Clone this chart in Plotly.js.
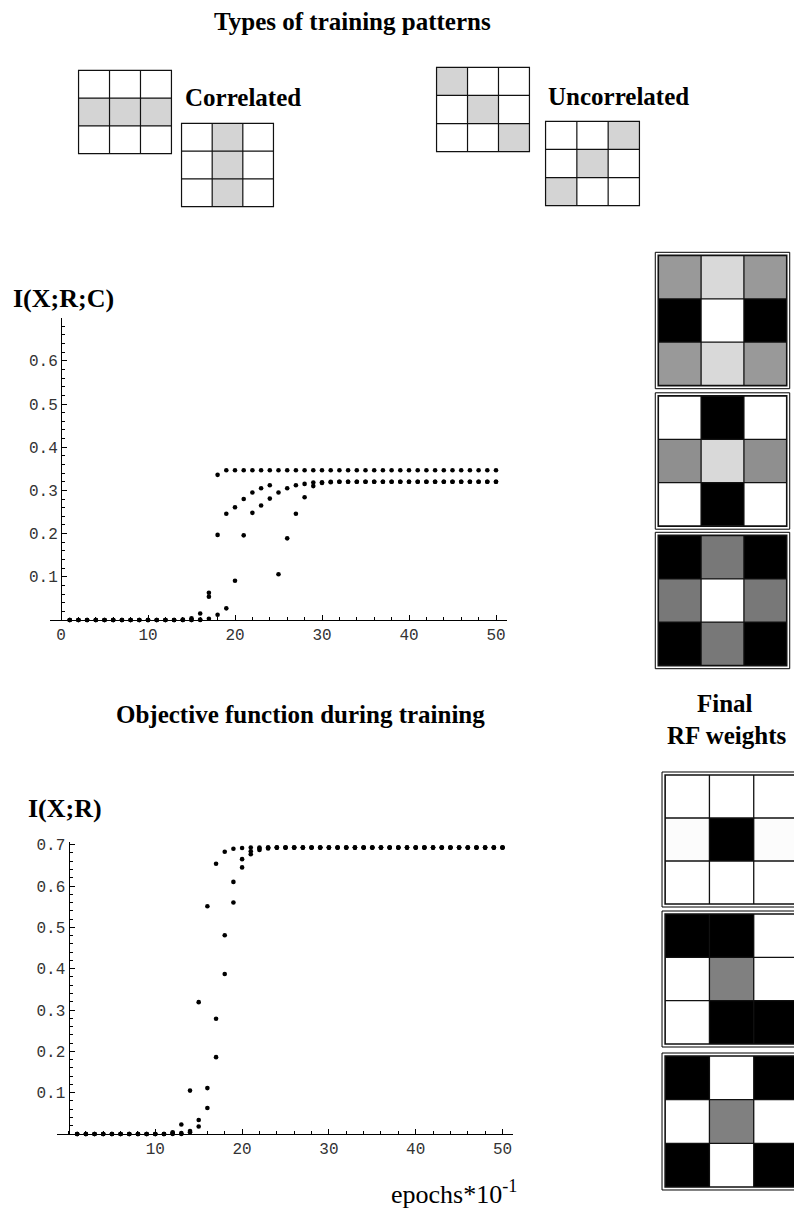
<!DOCTYPE html>
<html>
<head>
<meta charset="utf-8">
<script src="https://cdn.plot.ly/plotly-3.0.1.min.js"></script>
<style>html,body{margin:0;padding:0;background:#fff;}#plot{width:794px;height:1210px;}</style>
</head>
<body>
<div id="plot"></div>
<script>
// ---------------- DATA ----------------
const epochs = [1,2,3,4,5,6,7,8,9,10,11,12,13,14,15,16,17,18,19,20,21,22,23,24,25,26,27,28,29,30,31,32,33,34,35,36,37,38,39,40,41,42,43,44,45,46,47,48,49,50];

// I(X;R;C) — three training runs
const ixrcRun1 = [0,0,0,0,0,0,0,0,0,0,0,0,0,0.001,0.004,0.015,0.063,0.336,
  0.3466,0.3466,0.3466,0.3466,0.3466,0.3466,0.3466,0.3466,0.3466,0.3466,0.3466,0.3466,0.3466,0.3466,0.3466,0.3466,
  0.3466,0.3466,0.3466,0.3466,0.3466,0.3466,0.3466,0.3466,0.3466,0.3466,0.3466,0.3466,0.3466,0.3466,0.3466,0.3466];
const ixrcRun2 = [0,0,0,0,0,0,0,0,0,0,0,0,0,0,0,0.001,0.054,0.197,0.246,0.261,0.280,0.295,0.305,0.312,
  0.106,0.189,0.246,0.284,0.310,0.317,0.319,
  0.320,0.320,0.320,0.320,0.320,0.320,0.320,0.320,0.320,0.320,0.320,0.320,0.320,0.320,0.320,0.320,0.320,0.320,0.320];
const ixrcRun3 = [0,0,0,0,0,0,0,0,0,0,0,0,0,0,0,0,0.003,0.012,0.027,0.091,0.196,0.248,0.265,0.281,
  0.295,0.305,0.312,0.315,0.318,0.319,
  0.320,0.320,0.320,0.320,0.320,0.320,0.320,0.320,0.320,0.320,0.320,0.320,0.320,0.320,0.320,0.320,0.320,0.320,0.320,0.320];

// I(X;R) — three training runs
const ixrRun1 = [0,0,0,0,0,0,0,0,0,0,0,0.004,0.023,0.105,0.319,0.551,0.654,0.683,0.690,0.692,
  0.693,0.693,0.693,0.693,0.693,0.693,0.693,0.693,0.693,0.693,0.693,0.693,0.693,0.693,0.693,
  0.693,0.693,0.693,0.693,0.693,0.693,0.693,0.693,0.693,0.693,0.693,0.693,0.693,0.693,0.693];
const ixrRun2 = [0,0,0,0,0,0,0,0,0,0,0,0.002,0.002,0.007,0.034,0.111,0.279,0.481,0.610,0.665,0.684,0.690,
  0.693,0.693,0.693,0.693,0.693,0.693,0.693,0.693,0.693,0.693,0.693,0.693,0.693,0.693,
  0.693,0.693,0.693,0.693,0.693,0.693,0.693,0.693,0.693,0.693,0.693,0.693,0.693,0.693];
const ixrRun3 = [0,0,0,0,0,0,0,0,0,0,0,0,0,0.004,0.018,0.063,0.186,0.387,0.560,0.645,0.677,0.687,0.691,
  0.693,0.693,0.693,0.693,0.693,0.693,0.693,0.693,0.693,0.693,0.693,0.693,0.693,
  0.693,0.693,0.693,0.693,0.693,0.693,0.693,0.693,0.693,0.693,0.693,0.693,0.693,0.693];

// axis ticks
const ixrcTickVals = [0.1,0.2,0.3,0.4,0.5,0.6];
const ixrcTickText = ['0.1','0.2','0.3','0.4','0.5','0.6'];
const ixrTickVals = [0.1,0.2,0.3,0.4,0.5,0.6,0.7];
const ixrTickText = ['0.1','0.2','0.3','0.4','0.5','0.6','0.7'];
const xTickValsTop = [0,10,20,30,40,50];
const xTickValsBottom = [10,20,30,40,50];

// training patterns (1 = active pixel)
const patCorrRow = [[0,0,0],[1,1,1],[0,0,0]];
const patCorrCol = [[0,1,0],[0,1,0],[0,1,0]];
const patUncDiag = [[1,0,0],[0,1,0],[0,0,1]];
const patUncAnti = [[0,0,1],[0,1,0],[1,0,0]];

// final RF weights (grey level, 0 = black, 1 = white)
const rfCorr1 = [[0.60,0.85,0.60],[0.00,1.00,0.00],[0.60,0.85,0.60]];
const rfCorr2 = [[1.00,0.00,1.00],[0.56,0.85,0.56],[1.00,0.00,1.00]];
const rfCorr3 = [[0.00,0.47,0.00],[0.47,1.00,0.47],[0.00,0.47,0.00]];
const rfUnc1 = [[1.00,1.00,1.00],[0.99,0.00,0.99],[1.00,1.00,1.00]];
const rfUnc2 = [[0.00,0.00,1.00],[1.00,0.50,1.00],[1.00,0.00,0.00]];
const rfUnc3 = [[0.00,1.00,0.00],[1.00,0.50,1.00],[0.00,1.00,0.00]];

// ---------------- LAYOUT HELPERS ----------------
const W = 794, H = 1210;
const fx = p => p / W;
const fy = p => 1 - p / H;
const serif = 'Liberation Serif, Times New Roman, serif';
const mono = 'Liberation Mono, Courier New, monospace';

const traces = [];
const layout = {
  width: W, height: H,
  margin: {l:0, r:0, t:0, b:0},
  paper_bgcolor: '#fff', plot_bgcolor: 'rgba(0,0,0,0)',
  showlegend: false,
  shapes: [], annotations: []
};

function chart(n, ys, opts) {
  const xa = 'xaxis' + (n === 1 ? '' : n), ya = 'yaxis' + (n === 1 ? '' : n);
  const xr = 'x' + (n === 1 ? '' : n), yr = 'y' + (n === 1 ? '' : n);
  ys.forEach(y => traces.push({
    type: 'scatter', mode: 'markers', x: epochs, y: y, xaxis: xr, yaxis: yr,
    marker: {color: '#000', size: 4.6}, cliponaxis: false, hoverinfo: 'skip'
  }));
  const scale = opts.scale;
  layout[xa] = {
    domain: [fx(opts.left), fx(opts.right)],
    range: [(opts.left - opts.origin) / scale, (opts.right - opts.origin) / scale],
    anchor: yr, showline: true, linecolor: '#000', linewidth: 1,
    zeroline: false, showgrid: false,
    tickmode: 'array', tickvals: opts.xticks, ticktext: opts.xticks.map(String),
    ticks: 'inside', ticklen: 5, tickcolor: '#000', tickwidth: 1,
    minor: {ticks: 'inside', ticklen: 3, dtick: 2, tick0: 0, tickcolor: '#000', tickwidth: 1, showgrid: false},
    tickfont: {family: mono, size: 16, color: '#333'}, fixedrange: true
  };
  layout[ya] = {
    domain: [fy(opts.bottom), fy(opts.top)],
    range: [0, (opts.bottom - opts.top) / opts.yscale],
    anchor: 'free', position: fx(opts.origin),
    showline: true, linecolor: '#000', linewidth: 1,
    zeroline: false, showgrid: false,
    tickmode: 'array', tickvals: opts.yticks, ticktext: opts.yticktext,
    ticks: 'inside', ticklen: 5, tickcolor: '#000', tickwidth: 1,
    minor: {ticks: 'inside', ticklen: 3, dtick: 0.02, tick0: 0, tickcolor: '#000', tickwidth: 1, showgrid: false},
    tickfont: {family: mono, size: 16, color: '#333'}, fixedrange: true
  };
}

chart(1, [ixrcRun1, ixrcRun2, ixrcRun3], {
  left: 50, right: 507, origin: 61, scale: 8.7,
  top: 318, bottom: 620, yscale: 432,
  xticks: xTickValsTop, yticks: ixrcTickVals, yticktext: ixrcTickText
});
chart(2, [ixrRun1, ixrRun2, ixrRun3], {
  left: 57, right: 513, origin: 68.5, scale: 8.68,
  top: 842, bottom: 1134, yscale: 413.3,
  xticks: xTickValsBottom, yticks: ixrTickVals, yticktext: ixrTickText
});

// grids drawn as heatmaps on their own axes
let axN = 3;
function grid(z, box, colorscale, framed, pad, cutHi) {
  const n = axN++;
  const xr = 'x' + n, yr = 'y' + n;
  traces.push({
    type: 'heatmap', z: z, x: [0,1,2], y: [0,1,2], xaxis: xr, yaxis: yr,
    zmin: 0, zmax: 1, colorscale: colorscale, showscale: false, hoverinfo: 'skip'
  });
  const lo = -0.5 - pad, hi = 2.5 + pad;
  layout['xaxis' + n] = {domain: [fx(box[0]), Math.min(1, fx(box[2]))], range: [lo, cutHi !== undefined ? cutHi : hi],
    visible: false, fixedrange: true, anchor: yr};
  layout['yaxis' + n] = {domain: [fy(box[3]), fy(box[1])], range: [hi, lo], visible: false, fixedrange: true, anchor: xr};
  const lw = framed ? 1.3 : 1.2;
  const lc = '#111';
  [0.5, 1.5].forEach(v => {
    layout.shapes.push({type: 'line', xref: xr, yref: yr, x0: v, x1: v, y0: -0.5, y1: 2.5, line: {color: lc, width: lw}});
    layout.shapes.push({type: 'line', xref: xr, yref: yr, x0: -0.5, x1: 2.5, y0: v, y1: v, line: {color: lc, width: lw}});
  });
  layout.shapes.push({type: 'rect', xref: xr, yref: yr, x0: -0.5, x1: 2.5, y0: -0.5, y1: 2.5, line: {color: lc, width: framed ? 1.6 : 1.2}});
  if (framed) {
    layout.shapes.push({type: 'rect', xref: xr, yref: yr, x0: -0.57, x1: 2.57, y0: -0.57, y1: 2.57, line: {color: '#000', width: 1}});
  }
}

const patScale = [[0, '#ffffff'], [1, '#d4d4d4']];
const rfScale = [[0, '#000000'], [1, '#ffffff']];

grid(patCorrRow, [77, 69, 173, 155], patScale, false, 0.05);
grid(patCorrCol, [180, 122, 275, 208], patScale, false, 0.05);
grid(patUncDiag, [435, 66, 531, 153], patScale, false, 0.05);
grid(patUncAnti, [544, 120, 641, 207], patScale, false, 0.05);

grid(rfCorr1, [654, 251, 791, 390], rfScale, true, 0.1);
grid(rfCorr2, [654, 391.5, 791, 530.5], rfScale, true, 0.1);
grid(rfCorr3, [654, 531, 791, 670], rfScale, true, 0.1);
// bottom group runs off the right page edge
const cutHi = -0.6 + (794 - 660.7) / 44.3;
grid(rfUnc1, [660.7, 770.7, 794, 908.3], rfScale, true, 0.1, cutHi);
grid(rfUnc2, [660.7, 909.7, 794, 1048.3], rfScale, true, 0.1, cutHi);
grid(rfUnc3, [660.7, 1051.7, 794, 1191.3], rfScale, true, 0.1, cutHi);

// texts
function txt(text, x, y, size, anchor, bold) {
  layout.annotations.push({
    text: bold ? '<b>' + text + '</b>' : text, xref: 'paper', yref: 'paper',
    x: fx(x), y: fy(y), xanchor: anchor, yanchor: 'middle', showarrow: false,
    font: {family: serif, size: size, color: '#000'}
  });
}
txt('Types of training patterns', 352, 21, 25, 'center', true);
txt('Correlated', 183, 97, 25, 'left', true);
txt('Uncorrelated', 546, 96, 25, 'left', true);
txt('I(X;R;C)', 11, 299, 26, 'left', true);
txt('Objective function during training', 300, 714, 25, 'center', true);
txt('Final', 725, 703, 25, 'center', true);
txt('RF weights', 726, 735, 25, 'center', true);
txt('I(X;R)', 26, 808, 26, 'left', true);
txt('epochs*10<sup>-1</sup>', 389, 1192, 26, 'left', false);

Plotly.newPlot('plot', traces, layout, {staticPlot: true, displayModeBar: false});
</script>
</body>
</html>
